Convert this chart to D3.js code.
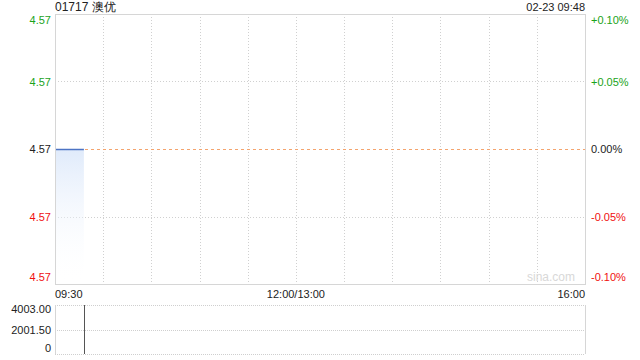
<!DOCTYPE html>
<html>
<head>
<meta charset="utf-8">
<script src="https://cdn.jsdelivr.net/npm/d3@7"></script>
<style>
  body { margin: 0; background: #fff; }
  svg { font-family: "Liberation Sans", Arial, sans-serif; }
</style>
</head>
<body>
<script>
// chart data
let title = "01717 澳优";
let stamp = "02-23 09:48";
let prevClose = 4.57;
let minutes = [0,1,2,3,4,5,6,7,8,9,10,11,12,13,14,15,16,17,18];
let prices = [4.57,4.57,4.57,4.57,4.57,4.57,4.57,4.57,4.57,4.57,4.57,4.57,4.57,4.57,4.57,4.57,4.57,4.57,4.57];
let volMinutes = [18];
let volumes = [4003];
let priceLabels = ["4.57","4.57","4.57","4.57","4.57"];
let pctLabels = ["+0.10%","+0.05%","0.00%","-0.05%","-0.10%"];
let volLabels = ["4003.00","2001.50","0"];
let timeLabels = ["09:30","12:00/13:00","16:00"];

let width = 640, height = 360;
let plotL = 55, plotR = 585, plotT = 14, plotB = 284;
let vTop = 305, vBottom = 354;

let svg = d3.select("body").append("svg")
  .attr("width", width)
  .attr("height", height);

let x = d3.scaleLinear().domain([0, 330]).range([plotL, plotR]);
let y = d3.scaleLinear().domain([prevClose * 0.999, prevClose * 1.001]).range([plotB, plotT]);
let pctY = d3.scaleLinear().domain([-0.1, 0.1]).range([plotB, plotT]);
let vy = d3.scaleLinear().domain([0, 4003]).range([vBottom, vTop]);

// gradient for area
let defs = svg.append("defs");
let grad = defs.append("linearGradient")
  .attr("id", "fill")
  .attr("x1", 0).attr("y1", 0).attr("x2", 0).attr("y2", 1);
grad.append("stop").attr("offset", "0%").attr("stop-color", "#dce8fa").attr("stop-opacity", 0.9);
grad.append("stop").attr("offset", "100%").attr("stop-color", "#ffffff").attr("stop-opacity", 0);

// vertical gridlines every 30 min
let gridTicks = d3.range(30, 330, 30);
svg.append("g").selectAll("line")
  .data(gridTicks)
  .enter().append("line")
  .attr("x1", d => Math.round(x(d)) + 0.5)
  .attr("x2", d => Math.round(x(d)) + 0.5)
  .attr("y1", plotT)
  .attr("y2", plotB)
  .attr("stroke", "#d0d0d0")
  .attr("stroke-dasharray", "1,2");

// horizontal gridlines
let pctTicks = [0.05, -0.05];
svg.append("g").selectAll("line")
  .data(pctTicks)
  .enter().append("line")
  .attr("x1", plotL)
  .attr("x2", plotR)
  .attr("y1", d => Math.round(pctY(d)) + 0.5)
  .attr("y2", d => Math.round(pctY(d)) + 0.5)
  .attr("stroke", "#d0d0d0")
  .attr("stroke-dasharray", "1,2");

// area + line
let area = d3.area()
  .x((d, i) => x(minutes[i]))
  .y0(plotB)
  .y1(d => y(d));
svg.append("path")
  .datum(prices)
  .attr("d", area)
  .attr("fill", "url(#fill)");

// prev close dashed line
svg.append("line")
  .attr("x1", plotL)
  .attr("x2", plotR)
  .attr("y1", Math.round(y(prevClose)) + 0.5)
  .attr("y2", Math.round(y(prevClose)) + 0.5)
  .attr("stroke", "#f4a46e")
  .attr("stroke-dasharray", "3,3");

let line = d3.line()
  .x((d, i) => x(minutes[i]))
  .y(d => Math.round(y(d)) + 0.5);
svg.append("path")
  .datum(prices)
  .attr("d", line)
  .attr("fill", "none")
  .attr("stroke", "#4d74c4")
  .attr("stroke-width", 1.5);

// frame
svg.append("rect")
  .attr("x", plotL + 0.5).attr("y", plotT + 0.5)
  .attr("width", plotR - plotL).attr("height", plotB - plotT)
  .attr("fill", "none").attr("stroke", "#d6d6d6");

// watermark
svg.append("text")
  .attr("x", plotR - 10).attr("y", plotB - 3)
  .attr("text-anchor", "end")
  .attr("font-size", 12)
  .attr("fill", "#d8d8d8")
  .text("sina.com");

// left price labels
let tickPcts = [0.1, 0.05, 0, -0.05, -0.1];
function labelColor(p) { return p > 0 ? "#1aa31a" : (p < 0 ? "#f01010" : "#222"); }
svg.append("g").selectAll("text")
  .data(tickPcts)
  .enter().append("text")
  .attr("x", plotL - 4)
  .attr("y", (d, i) => i == 0 ? pctY(d) + 10 : (i == 4 ? pctY(d) - 3 : pctY(d) + 4))
  .attr("text-anchor", "end")
  .attr("font-size", 11)
  .attr("fill", labelColor)
  .text((d, i) => priceLabels[i]);

svg.append("g").selectAll("text")
  .data(tickPcts)
  .enter().append("text")
  .attr("x", plotR + 6)
  .attr("y", (d, i) => i == 0 ? pctY(d) + 10 : (i == 4 ? pctY(d) - 3 : pctY(d) + 4))
  .attr("font-size", 11)
  .attr("fill", labelColor)
  .text((d, i) => pctLabels[i]);

// header
svg.append("text")
  .attr("x", plotL).attr("y", 11)
  .attr("font-size", 12).attr("fill", "#222")
  .text(title);
svg.append("text")
  .attr("x", plotR).attr("y", 11)
  .attr("text-anchor", "end")
  .attr("font-size", 11).attr("fill", "#222")
  .text(stamp);

// time labels
let timePos = [0, 150, 330];
let timeAnchor = ["start", "middle", "end"];
svg.append("g").selectAll("text")
  .data(timeLabels)
  .enter().append("text")
  .attr("x", (d, i) => x(timePos[i]))
  .attr("y", 298)
  .attr("text-anchor", (d, i) => timeAnchor[i])
  .attr("font-size", 11)
  .attr("fill", "#222")
  .text(d => d);

// volume panel
let volTicks = [4003, 2001.5, 0];
svg.append("g").selectAll("line")
  .data(volTicks)
  .enter().append("line")
  .attr("x1", plotL).attr("x2", plotR)
  .attr("y1", d => Math.round(vy(d)) + 0.5)
  .attr("y2", d => Math.round(vy(d)) + 0.5)
  .attr("stroke", "#cfcfcf")
  .attr("stroke-dasharray", "1,1");
svg.append("line")
  .attr("x1", plotL + 0.5).attr("x2", plotL + 0.5)
  .attr("y1", vTop).attr("y2", vBottom)
  .attr("stroke", "#d6d6d6");
svg.append("line")
  .attr("x1", plotR + 0.5).attr("x2", plotR + 0.5)
  .attr("y1", vTop).attr("y2", vBottom)
  .attr("stroke", "#d6d6d6");

svg.append("g").selectAll("line")
  .data(volumes)
  .enter().append("line")
  .attr("x1", (d, i) => Math.round(x(volMinutes[i])) + 0.5)
  .attr("x2", (d, i) => Math.round(x(volMinutes[i])) + 0.5)
  .attr("y1", vy(0))
  .attr("y2", d => vy(d))
  .attr("stroke", "#555");

svg.append("g").selectAll("text")
  .data(volTicks)
  .enter().append("text")
  .attr("x", plotL - 4)
  .attr("y", (d, i) => vy(d) + (i == 0 ? 8 : (i == 2 ? -2 : 4)))
  .attr("text-anchor", "end")
  .attr("font-size", 11)
  .attr("fill", "#222")
  .text((d, i) => volLabels[i]);
</script>
</body>
</html>
